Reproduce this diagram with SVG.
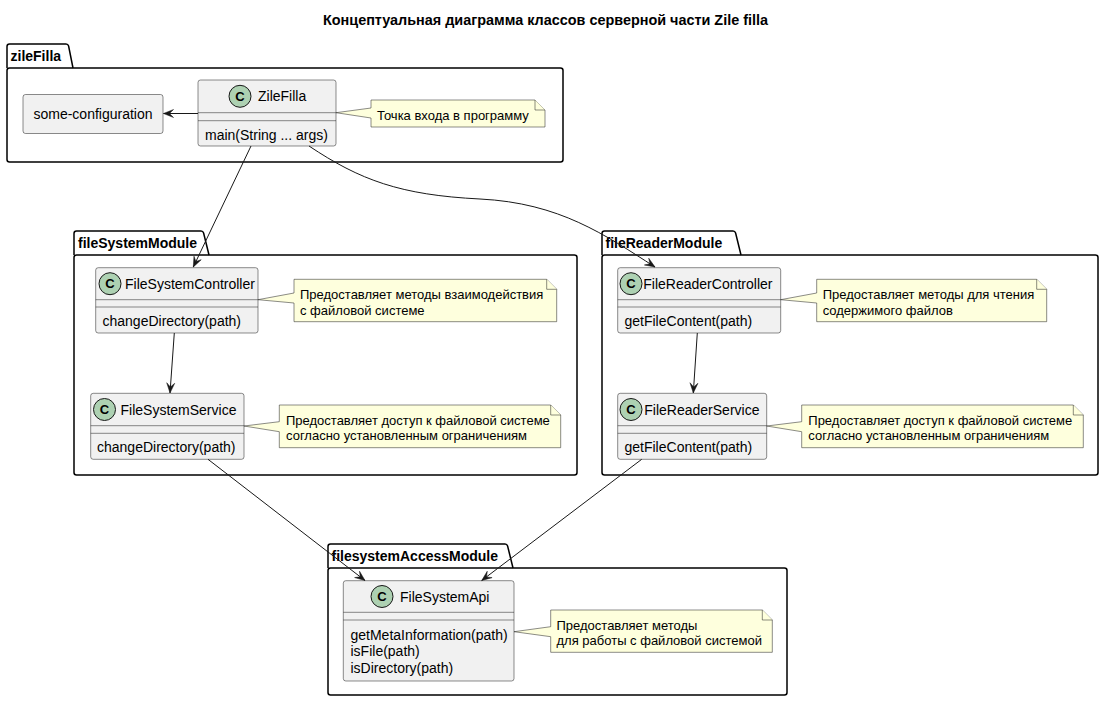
<svg xmlns="http://www.w3.org/2000/svg" width="1105" height="703" viewBox="0 0 1105 703">
<style>
text{font-family:"Liberation Sans",Arial,sans-serif;fill:#000}
.title{font-size:14px;font-weight:bold}
.pkgname{font-size:14px;font-weight:bold}
.pkg{fill:none;stroke:#000;stroke-width:1.5}
.cls{fill:#F1F1F1;stroke:#181818;stroke-width:0.5}
.sep{stroke:#181818;stroke-width:0.5}
.circ{fill:#ADD1B2;stroke:#181818;stroke-width:1}
.cl{font-size:13px;font-weight:bold}
.nm{font-size:14px}
.mb{font-size:14px}
.note{fill:#FEFFDD;stroke:#181818;stroke-width:0.5}
.nt{font-size:13px}
.edge{fill:none;stroke:#181818;stroke-width:1}
</style>
<defs>
<marker id="arr" viewBox="-11 -5 12 10" refX="0" refY="0" markerWidth="12" markerHeight="10" markerUnits="userSpaceOnUse" orient="auto">
<path d="M0,0 L-10,-4 L-6,0 L-10,4 Z" fill="#181818" stroke="#181818" stroke-width="0.5"/>
</marker>
</defs>
<rect width="1105" height="703" fill="#FFFFFF"/>
<text class="title" x="545.5" y="25" text-anchor="middle" textLength="445" lengthAdjust="spacingAndGlyphs">Концептуальная диаграмма классов серверной части Zile filla</text>

<g id="pkg-zileFilla">
<path class="pkg" d="M7,68 L7,46.5 Q7,44 9.5,44 L66,44 Q68,44 68.6,46 L73,68"/>
<rect class="pkg" x="7" y="68" width="556" height="94" rx="2.5"/>
<text class="pkgname" x="10.5" y="61">zileFilla</text>
</g>
<g id="pkg-fileSystemModule">
<path class="pkg" d="M74,255 L74,233.5 Q74,231 76.5,231 L201,231 Q203,231 203.6,233 L209,255"/>
<rect class="pkg" x="74" y="255" width="503" height="220" rx="2.5"/>
<text class="pkgname" x="78" y="248">fileSystemModule</text>
</g>
<g id="pkg-fileReaderModule">
<path class="pkg" d="M602,255 L602,233.5 Q602,231 604.5,231 L733,231 Q735,231 735.6,233 L741,255"/>
<rect class="pkg" x="602" y="255" width="496" height="220" rx="2.5"/>
<text class="pkgname" x="605.5" y="248">fileReaderModule</text>
</g>
<g id="pkg-filesystemAccessModule">
<path class="pkg" d="M328,568 L328,546.5 Q328,544 330.5,544 L505,544 Q507,544 507.6,546 L513,568"/>
<rect class="pkg" x="328" y="568" width="459" height="127" rx="2.5"/>
<text class="pkgname" x="331.5" y="561">filesystemAccessModule</text>
</g>

<g id="some-configuration">
<rect class="cls" x="23" y="94.5" width="140" height="39" rx="2.5"/>
<text class="nm" x="93" y="119" text-anchor="middle">some-configuration</text>
</g>

<g id="ZileFilla">
<rect class="cls" x="198" y="80" width="138" height="66" rx="2.5"/>
<line class="sep" x1="198" y1="112.7" x2="336" y2="112.7"/>
<line class="sep" x1="198" y1="120.7" x2="336" y2="120.7"/>
<circle class="circ" cx="240" cy="96.3" r="11"/>
<text class="cl" x="240" y="100.8" text-anchor="middle">C</text>
<text class="nm" x="258" y="101.3">ZileFilla</text>
<text class="mb" x="205" y="139.5">main(String ... args)</text>
</g>
<g id="note-ZileFilla">
<path class="note" d="M371,100 L535,100 L545,110 L545,127 L371,127 L371,118 L336,112.7 L371,108 Z"/>
<path class="note" d="M535,100 L535,110 L545,110"/>
<text class="nt" x="377" y="119.5">Точка входа в программу</text>
</g>

<g id="FileSystemController">
<rect class="cls" x="95.7" y="267.7" width="162.3" height="65.3" rx="2.5"/>
<line class="sep" x1="95.7" y1="299.7" x2="258" y2="299.7"/>
<line class="sep" x1="95.7" y1="307" x2="258" y2="307"/>
<circle class="circ" cx="110" cy="283.7" r="11"/>
<text class="cl" x="110" y="288.2" text-anchor="middle">C</text>
<text class="nm" x="125" y="288.7">FileSystemController</text>
<text class="mb" x="102.5" y="326">changeDirectory(path)</text>
</g>
<g id="note-FileSystemController">
<path class="note" d="M294,279.3 L546.7,279.3 L556.7,289.3 L556.7,321.7 L294,321.7 L294,303 L258,299.7 L294,293 Z"/>
<path class="note" d="M546.7,279.3 L546.7,289.3 L556.7,289.3"/>
<text class="nt" x="300" y="299">Предоставляет методы взаимодействия</text>
<text class="nt" x="300" y="314.5">с файловой системе</text>
</g>

<g id="FileSystemService">
<rect class="cls" x="90.7" y="393.3" width="153.3" height="66" rx="2.5"/>
<line class="sep" x1="90.7" y1="425.7" x2="244" y2="425.7"/>
<line class="sep" x1="90.7" y1="433.3" x2="244" y2="433.3"/>
<circle class="circ" cx="104.5" cy="409.5" r="11"/>
<text class="cl" x="104.5" y="414" text-anchor="middle">C</text>
<text class="nm" x="120.5" y="414.5">FileSystemService</text>
<text class="mb" x="97" y="452.3">changeDirectory(path)</text>
</g>
<g id="note-FileSystemService">
<path class="note" d="M279.3,405 L550.7,405 L560.7,415 L560.7,447.7 L279.3,447.7 L279.3,431.7 L244,426 L279.3,421.7 Z"/>
<path class="note" d="M550.7,405 L550.7,415 L560.7,415"/>
<text class="nt" x="286" y="424.7">Предоставляет доступ к файловой системе</text>
<text class="nt" x="286" y="440.2">согласно установленным ограничениям</text>
</g>

<g id="FileReaderController">
<rect class="cls" x="617.7" y="267.7" width="163" height="65.3" rx="2.5"/>
<line class="sep" x1="617.7" y1="299.7" x2="780.7" y2="299.7"/>
<line class="sep" x1="617.7" y1="307" x2="780.7" y2="307"/>
<circle class="circ" cx="631" cy="283.7" r="11"/>
<text class="cl" x="631" y="288.2" text-anchor="middle">C</text>
<text class="nm" x="643.3" y="288.7">FileReaderController</text>
<text class="mb" x="624.5" y="326">getFileContent(path)</text>
</g>
<g id="note-FileReaderController">
<path class="note" d="M816.7,279.3 L1036.7,279.3 L1046.7,289.3 L1046.7,321.7 L816.7,321.7 L816.7,303 L780.7,299.7 L816.7,293 Z"/>
<path class="note" d="M1036.7,279.3 L1036.7,289.3 L1046.7,289.3"/>
<text class="nt" x="822.7" y="299">Предоставляет методы для чтения</text>
<text class="nt" x="822.7" y="314.5">содержимого файлов</text>
</g>

<g id="FileReaderService">
<rect class="cls" x="617.7" y="393.3" width="149" height="66" rx="2.5"/>
<line class="sep" x1="617.7" y1="425.7" x2="766.7" y2="425.7"/>
<line class="sep" x1="617.7" y1="433.3" x2="766.7" y2="433.3"/>
<circle class="circ" cx="631" cy="409.5" r="11"/>
<text class="cl" x="631" y="414" text-anchor="middle">C</text>
<text class="nm" x="644.3" y="414.5">FileReaderService</text>
<text class="mb" x="624.5" y="452.3">getFileContent(path)</text>
</g>
<g id="note-FileReaderService">
<path class="note" d="M801.7,405 L1073.3,405 L1083.3,415 L1083.3,447.7 L801.7,447.7 L801.7,431.7 L766.7,426 L801.7,421.7 Z"/>
<path class="note" d="M1073.3,405 L1073.3,415 L1083.3,415"/>
<text class="nt" x="808.3" y="424.7">Предоставляет доступ к файловой системе</text>
<text class="nt" x="808.3" y="440.2">согласно установленным ограничениям</text>
</g>

<g id="FileSystemApi">
<rect class="cls" x="343.3" y="580.7" width="170.7" height="100.3" rx="2.5"/>
<line class="sep" x1="343.3" y1="612.3" x2="514" y2="612.3"/>
<line class="sep" x1="343.3" y1="620" x2="514" y2="620"/>
<circle class="circ" cx="382" cy="596.5" r="11"/>
<text class="cl" x="382" y="601" text-anchor="middle">C</text>
<text class="nm" x="400" y="601.5">FileSystemApi</text>
<text class="mb" x="350.5" y="639.5">getMetaInformation(path)</text>
<text class="mb" x="350.5" y="656">isFile(path)</text>
<text class="mb" x="350.5" y="672.5">isDirectory(path)</text>
</g>
<g id="note-FileSystemApi">
<path class="note" d="M550.7,610 L762.3,610 L772.3,620 L772.3,652.3 L550.7,652.3 L550.7,636.7 L514,631.7 L550.7,626.7 Z"/>
<path class="note" d="M762.3,610 L762.3,620 L772.3,620"/>
<text class="nt" x="556.5" y="629.5">Предоставляет методы</text>
<text class="nt" x="556.5" y="645">для работы с файловой системой</text>
</g>

<g id="connectors">
<path class="edge" d="M198,113.5 L163.5,113.5" marker-end="url(#arr)"/>
<path class="edge" d="M251,146 L193.3,267" marker-end="url(#arr)"/>
<path class="edge" d="M309,146 C360,180 400,195 480,199 C560,203 605,235 655,267" marker-end="url(#arr)"/>
<path class="edge" d="M174.3,333 L170,393" marker-end="url(#arr)"/>
<path class="edge" d="M697.3,333 L693.3,393" marker-end="url(#arr)"/>
<path class="edge" d="M208,459.3 L365,580.5" marker-end="url(#arr)"/>
<path class="edge" d="M641.7,459.3 L481.7,580.5" marker-end="url(#arr)"/>
</g>
</svg>
